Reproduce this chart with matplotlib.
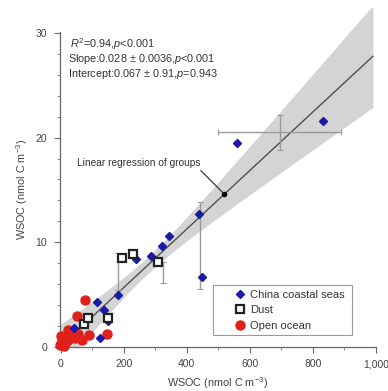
import numpy as np
import matplotlib
matplotlib.use("Agg")
import matplotlib.pyplot as plt
from matplotlib.ticker import MultipleLocator, FixedLocator, FuncFormatter
from matplotlib.patches import Rectangle

plt.rcParams['font.family'] = ['Liberation Sans', 'DejaVu Sans']
plt.rcParams['mathtext.fontset'] = 'custom'
plt.rcParams['mathtext.rm'] = 'Liberation Sans'
plt.rcParams['mathtext.it'] = 'Liberation Sans:italic'

# ---- data ----
china_x = [43, 114, 125, 138, 151, 183, 240, 285, 320, 344, 440, 447, 558, 833]
china_y = [1.8, 4.3, 0.8, 3.5, 2.5, 4.9, 8.4, 8.7, 9.6, 10.6, 12.7, 6.7, 19.5, 21.6]
dust_x = [75, 88, 149, 193, 229, 310]
dust_y = [2.15, 2.7, 2.75, 8.45, 8.85, 8.1]
ocean_x = [0, 3, 14, 24, 22, 45, 67, 77, 51, 91, 146, -2, 35, 55, 10, 30]
ocean_y = [1.0, 0.6, 0.35, 0.6, 1.6, 0.8, 0.6, 4.5, 2.9, 1.1, 1.2, 0.15, 1.3, 1.2, 0.1, 0.9]

# group means with error bars
grp_x = [695, 443, 183, 325]
grp_y = [20.5, 9.7, 7.2, 7.1]
grp_xerr = [195, 0, 0, 0]
grp_yerr = [1.65, 4.15, 1.8, 1.0]

slope, intercept = 0.028, 0.067
band_a, band_b, band_m = 0.8, 0.0068, 280
arrow_target = 519

x_ticks = [0, 200, 400, 600, 800, 1000]
y_ticks = [0, 10, 20, 30]

fig = plt.figure(figsize=(3.88, 3.91), dpi=100)
ax = fig.add_axes([0.1541, 0.1133, 0.815, 0.866])

xs = np.linspace(0, 990, 200)
yl = slope * xs + intercept
half = np.sqrt(band_a**2 + (band_b * (xs - band_m))**2)
ax.fill_between(xs, yl - half, yl + half, color='#d4d4d4', lw=0, zorder=1)
ax.plot(xs, yl, color='#505050', lw=1.0, zorder=2)

ecol = '#9a9a9a'
for gx, gy, xe, ye in zip(grp_x, grp_y, grp_xerr, grp_yerr):
    ax.errorbar(gx, gy, xerr=xe if xe else None, yerr=ye, fmt='none',
                ecolor=ecol, elinewidth=1.0, capsize=2, capthick=0.8, zorder=3)

ax.plot(china_x, china_y, 'D', color='#1a1aa6', ms=4, mec='#1a1aa6',
        zorder=5, clip_on=False, label='China coastal seas')
ax.plot(dust_x, dust_y, 's', mfc='white', mec='#222222', mew=1.6, ms=6,
        zorder=6, clip_on=False, label='Dust')
ax.plot(ocean_x, ocean_y, 'o', color='#e0201b', ms=6.5, mec='#e0201b',
        zorder=4, clip_on=False, label='Open ocean')

# regression arrow target
ty = slope * arrow_target + intercept
ax.plot([arrow_target], [ty], 'o', color='black', ms=3, zorder=7)
ax.annotate('Linear regression of groups', xy=(arrow_target, ty),
            xytext=(52, 17.6), fontsize=7.3, color='#333333', va='center',
            arrowprops=dict(arrowstyle='-', color='#222222', lw=0.8,
                            shrinkA=0, shrinkB=0,
                            relpos=(0.98, 0.0)), zorder=7)

tkw = dict(fontsize=7.8, color='#333333', va='center')
ax.text(30, 28.95, r'$\it{R}^2$=0.94,$\it{p}$<0.001', **tkw)
ax.text(22, 27.5, r'Slope:0.028 $\pm$ 0.0036,$\it{p}$<0.001', **tkw)
ax.text(22, 26.05, r'Intercept:0.067 $\pm$ 0.91,$\it{p}$=0.943', **tkw)

ax.set_xlim(-3, 1000)
ax.set_ylim(0, 32.4)
for s in ['top', 'right']:
    ax.spines[s].set_visible(False)
for s in ['left', 'bottom']:
    ax.spines[s].set_color('#666666')
    ax.spines[s].set_linewidth(0.9)
ax.spines['left'].set_bounds(0, 30.1)
ax.spines['bottom'].set_bounds(-3, 1000)

ax.set_xticks(x_ticks)
ax.set_yticks(y_ticks)
ax.xaxis.set_minor_locator(FixedLocator(np.arange(100, 1000, 200)))
ax.yaxis.set_minor_locator(FixedLocator([v for v in range(2, 30, 2) if v % 10]))
ax.xaxis.set_major_formatter(FuncFormatter(lambda v, p: f'{int(v):,}'))
ax.tick_params(which='major', length=4, width=0.8, color='#666666',
               labelsize=7.5, labelcolor='#444444', direction='out', pad=5)
ax.tick_params(which='minor', length=2.5, width=0.7, color='#888888', direction='out')

ax.set_xlabel('WSOC (nmol C m$^{-3}$)', fontsize=7.8, color='#444444', labelpad=4)
ax.set_ylabel('WSOC (nmol C m$^{-3}$)', fontsize=7.8, color='#444444')
ax.yaxis.set_label_coords(-0.095, 15 / 32.4)

# legend frame drawn separately
ax.add_patch(Rectangle((0.4845, 0.0346), 0.4395, 0.1474, transform=ax.transAxes,
                       facecolor='white', edgecolor='#999999', lw=0.8, zorder=8,
                       clip_on=False))
leg = ax.legend(loc='upper left', bbox_to_anchor=(0.553, 0.168), fontsize=8,
                frameon=False, handletextpad=0.35, handlelength=1.0, borderpad=0,
                labelspacing=0.5, borderaxespad=0)
leg.set_zorder(9)
for t in leg.get_texts():
    t.set_color('#333333')

fig.savefig('out.png', dpi=100)
